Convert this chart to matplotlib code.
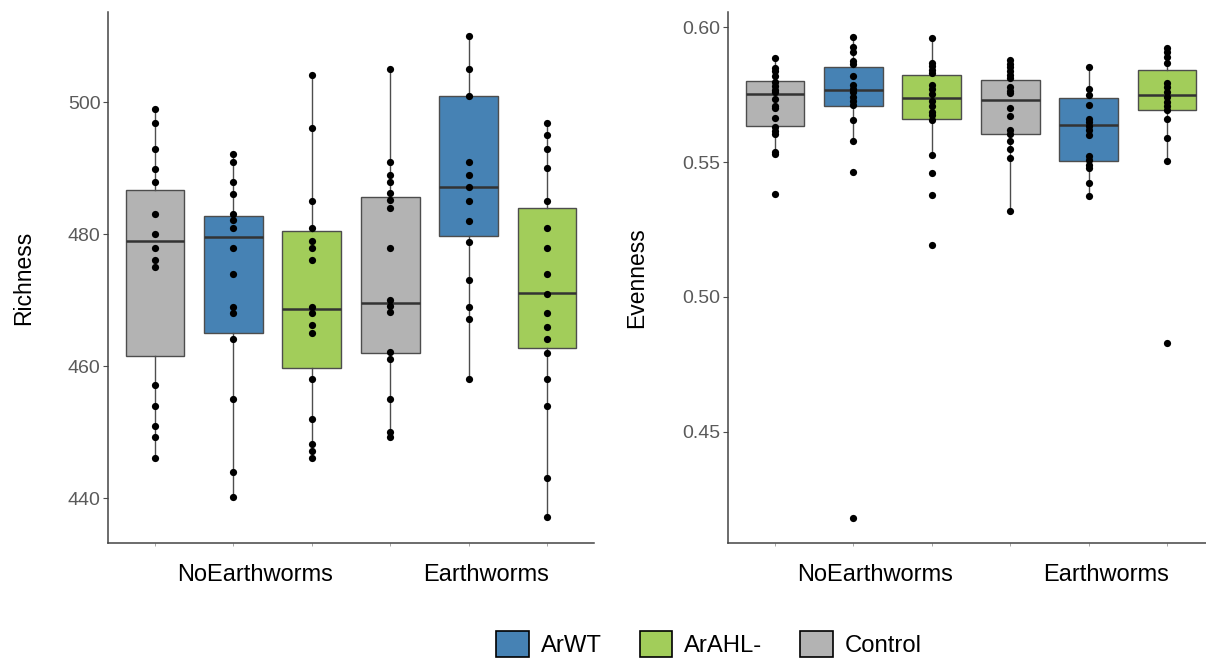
import numpy as np
import matplotlib
matplotlib.use("Agg")
import matplotlib.pyplot as plt
from matplotlib.patches import Patch
import matplotlib.transforms as mtransforms

plt.rcParams['font.family'] = ['Liberation Sans', 'DejaVu Sans']

# groups, left to right in each panel
treatments = ['Control', 'ArWT', 'ArAHL-', 'Control', 'ArWT', 'ArAHL-']
positions = [1, 2, 3, 4, 5, 6]
soil_labels = ['NoEarthworms', 'Earthworms']
soil_label_pos = [2.27, 5.22]

colors = {'ArWT': '#4682B4', 'ArAHL-': '#A2CD5A', 'Control': '#B3B3B3'}
legend_order = ['ArWT', 'ArAHL-', 'Control']

# Richness: box summaries
rich_lo = [446.1, 440.2, 446.1, 449.2, 458.1, 437.2]
rich_q1 = [461.6, 465.1, 459.8, 462.0, 479.7, 462.7]
rich_med = [479.0, 479.6, 468.6, 469.6, 487.2, 471.1]
rich_q3 = [486.7, 482.8, 480.5, 485.6, 501.0, 484.0]
rich_hi = [499.0, 492.1, 504.1, 505.1, 510.0, 496.9]

# Richness: individual samples
rich_pts = [
    [499.0, 496.9, 493.0, 489.9, 487.9, 483.1, 480.0, 477.9, 476.1, 475.0,
     457.1, 454.0, 451.0, 449.2, 446.1],
    [492.1, 491.0, 487.9, 486.1, 483.1, 482.1, 481.0, 477.9, 474.0, 469.0,
     468.1, 464.1, 455.1, 444.0, 440.2],
    [504.1, 496.1, 485.1, 481.0, 479.0, 477.9, 476.1, 469.0, 468.1, 466.2,
     465.1, 458.1, 452.0, 448.2, 447.1, 446.1],
    [505.1, 491.0, 489.0, 488.0, 486.2, 485.2, 484.0, 477.9, 470.0, 469.2,
     468.2, 462.1, 461.1, 455.1, 450.0, 449.2],
    [510.0, 505.0, 501.0, 491.0, 489.0, 487.1, 485.1, 482.0, 478.9, 473.0,
     469.0, 467.1, 458.1],
    [496.9, 495.1, 493.0, 490.0, 485.0, 481.0, 477.9, 474.0, 471.0, 468.1,
     466.0, 464.1, 462.0, 458.1, 454.0, 443.0, 437.2],
]

# Evenness: box summaries
even_lo = [0.5528, 0.5577, 0.5525, 0.5318, 0.5374, 0.5504]
even_q1 = [0.5635, 0.5709, 0.5660, 0.5604, 0.5504, 0.5693]
even_med = [0.5751, 0.5767, 0.5737, 0.5731, 0.5638, 0.5748]
even_q3 = [0.5799, 0.5854, 0.5823, 0.5803, 0.5739, 0.5842]
even_hi = [0.5884, 0.5965, 0.5959, 0.5877, 0.5851, 0.5922]

# Evenness: individual samples
even_pts = [
    [0.5884, 0.5849, 0.5836, 0.5819, 0.5797, 0.5780, 0.5767, 0.5758, 0.5732,
     0.5706, 0.5700, 0.5663, 0.5629, 0.5616, 0.5605, 0.5538, 0.5528, 0.5383],
    [0.5965, 0.5926, 0.5907, 0.5874, 0.5864, 0.5819, 0.5784, 0.5771, 0.5758,
     0.5742, 0.5726, 0.5710, 0.5657, 0.5577, 0.5463, 0.4179],
    [0.5959, 0.5868, 0.5855, 0.5842, 0.5829, 0.5784, 0.5771, 0.5751, 0.5726,
     0.5706, 0.5687, 0.5674, 0.5654, 0.5525, 0.5458, 0.5379, 0.5192],
    [0.5877, 0.5864, 0.5851, 0.5838, 0.5823, 0.5812, 0.5777, 0.5764, 0.5755,
     0.5700, 0.5670, 0.5618, 0.5605, 0.5579, 0.5548, 0.5515, 0.5318],
    [0.5851, 0.5771, 0.5748, 0.5710, 0.5661, 0.5648, 0.5635, 0.5618, 0.5600,
     0.5522, 0.5506, 0.5489, 0.5476, 0.5421, 0.5374],
    [0.5922, 0.5907, 0.5890, 0.5868, 0.5794, 0.5777, 0.5758, 0.5742, 0.5722,
     0.5706, 0.5693, 0.5658, 0.5590, 0.5504, 0.4830],
]

fig = plt.figure(figsize=(12.06, 6.61), dpi=100)
W, H = 1206, 661
ax1 = fig.add_axes([108 / W, (H - 543) / H, 486 / W, 531 / H])
ax2 = fig.add_axes([728 / W, (H - 543) / H, 486 / W, 531 / H])


def draw_panel(ax, lo, q1, med, q3, hi, pts, ylim, yticks, yticklabels, ylabel, label_x):
    stats = []
    for i in range(len(positions)):
        stats.append({'whislo': lo[i], 'q1': q1[i], 'med': med[i],
                      'q3': q3[i], 'whishi': hi[i]})
    bp = ax.bxp(stats, positions=positions, widths=0.75, patch_artist=True,
                showfliers=False, showcaps=False,
                boxprops=dict(edgecolor='#4d4d4d', linewidth=1.0),
                whiskerprops=dict(color='#4d4d4d', linewidth=1.0),
                medianprops=dict(color='#333333', linewidth=1.8))
    for patch, t in zip(bp['boxes'], treatments):
        patch.set_facecolor(colors[t])
    for p, vals in zip(positions, pts):
        ax.scatter(np.full(len(vals), p), vals, s=27, color='black',
                   zorder=5, linewidths=0)

    ax.set_xlim(0.4, 6.6)
    ax.set_ylim(*ylim)
    ax.set_xticks(positions)
    ax.set_xticklabels([''] * len(positions))
    ax.set_yticks(yticks)
    ax.set_yticklabels(yticklabels)
    ax.tick_params(axis='y', length=3.5, width=0.8, color='#4d4d4d',
                   labelcolor='#5a5a5a', labelsize=14, pad=2)
    ax.tick_params(axis='x', length=2.5, width=0.6, color='#999999')
    for s in ['top', 'right']:
        ax.spines[s].set_visible(False)
    for s in ['left', 'bottom']:
        ax.spines[s].set_color('#444444')
        ax.spines[s].set_linewidth(1.1)

    ax.set_ylabel(ylabel, fontsize=16.5, color='black')
    ax.yaxis.set_label_coords(label_x, 0.5)

    trans = mtransforms.blended_transform_factory(ax.transData, ax.transAxes)
    for xp, lab in zip(soil_label_pos, soil_labels):
        ax.text(xp, -0.061, lab, transform=trans, ha='center', va='center',
                fontsize=17, color='black')


draw_panel(ax1, rich_lo, rich_q1, rich_med, rich_q3, rich_hi, rich_pts,
           (433.2, 513.7), [440, 460, 480, 500], ['440', '460', '480', '500'],
           'Richness', -0.15)
draw_panel(ax2, even_lo, even_q1, even_med, even_q3, even_hi, even_pts,
           (0.4088, 0.6056), [0.45, 0.50, 0.55, 0.60],
           ['0.45', '0.50', '0.55', '0.60'], 'Evenness', -0.165)

handles = [Patch(facecolor=colors[t], edgecolor='black', linewidth=1.2, label=t)
           for t in legend_order]
fig.legend(handles=handles, loc='center', bbox_to_anchor=(709 / W, (H - 644) / H),
           ncol=3, frameon=False, fontsize=17.2, handlelength=1.35,
           handleheight=1.35, handletextpad=0.5, columnspacing=1.6)

fig.savefig('out.png', dpi=100)
